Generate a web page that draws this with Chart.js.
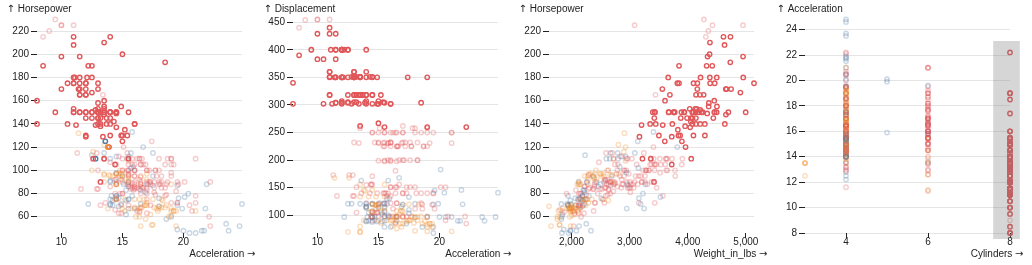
<!DOCTYPE html>
<html>
<head>
<meta charset="utf-8">
<script src="https://cdn.jsdelivr.net/npm/chart.js@4"></script>
<style>
html,body{margin:0;padding:0;background:#fff;}
#wrap{position:relative;width:1032px;height:265px;overflow:hidden;}
.panel{position:absolute;top:0;width:256px;height:265px;}
canvas{display:block;}
</style>
</head>
<body>
<div id="wrap">
  <div class="panel" style="left:0px"><canvas id="c0" width="256" height="265"></canvas></div>
  <div class="panel" style="left:256px"><canvas id="c1" width="256" height="265"></canvas></div>
  <div class="panel" style="left:512px"><canvas id="c2" width="256" height="265"></canvas></div>
  <div class="panel" style="left:768px"><canvas id="c3" width="256" height="265"></canvas></div>
</div>
<script>
// ---------------- DATA (cars) ----------------
const cylinders = [
  8,8,8,8,8,8,8,8,8,8,8,8,8,8,4,6,6,6,4,4,4,4,4,4,6,8,8,8,8,
  4,4,4,4,6,6,6,6,6,8,8,8,8,8,8,8,6,4,6,6,4,4,4,4,4,4,4,4,
  4,4,4,4,4,8,8,8,8,8,8,8,8,8,3,8,8,8,8,4,4,4,4,4,4,4,4,4,
  8,8,8,8,8,8,8,8,8,8,8,8,6,6,6,6,6,4,8,8,8,8,6,4,4,4,3,4,6,4,8,8,4,4,4,4,8,4,6,8,
  6,6,6,6,4,4,4,4,6,6,6,8,8,8,8,8,4,4,4,4,4,4,4,4,4,4,4,
  6,6,6,6,8,8,8,8,6,6,6,6,6,8,8,4,4,6,4,4,4,4,6,4,6,4,4,4,4,4,
  4,4,4,4,4,8,8,8,8,6,6,6,6,4,4,4,4,6,6,6,6,4,4,4,4,4,8,4,6,6,8,8,8,8,
  4,4,4,4,4,8,8,8,8,6,6,6,6,8,8,8,8,4,4,4,4,4,4,4,4,6,4,3,
  4,4,4,4,4,8,8,8,6,6,6,4,6,6,6,6,6,6,8,6,8,8,4,4,4,4,4,4,4,4,5,6,4,6,4,4,
  6,6,4,6,6,8,8,8,8,8,8,8,8,4,4,4,4,5,8,4,8,4,4,4,4,4,6,6,4,
  4,4,4,4,4,4,4,6,4,4,4,4,4,4,4,4,4,4,5,4,4,4,4,4,6,3,4,4,4,
  4,4,4,6,4,4,4,4,4,4,4,4,4,4,4,4,4,4,4,4,4,4,6,6,6,6,8,6,6,
  4,4,4,4,4,4,4,4,4,4,4,4,4,4,4,4,4,4,4,6,6,4,6,4,4,4,4,4,4,4,4,
  4,8,8,8,8,8,4,4
];
const displacement = [
  307,350,318,304,302,429,454,440,455,390,383,340,400,455,113,198,199,200,97,97,110,107,104,121,199,360,307,318,304,
  97,140,113,98,232,225,250,250,232,350,400,351,318,383,400,400,258,140,250,250,122,116,79,88,71,72,97,91,
  113,97.5,97,140,122,350,400,318,351,304,429,350,350,400,70,304,307,302,318,121,121,120,96,122,97,120,98,97,
  350,304,350,302,318,429,400,351,318,440,455,360,225,250,232,250,198,97,400,400,360,350,232,97,140,108,70,122,155,98,350,400,68,116,114,121,318,121,156,350,
  198,200,232,250,79,122,71,140,250,258,225,302,350,318,302,304,98,79,97,76,83,90,90,116,120,108,79,
  225,250,250,250,400,350,318,351,231,250,258,225,231,262,302,97,140,232,140,134,90,119,171,90,232,115,120,121,121,91,
  107,116,140,98,101,305,318,304,351,225,250,200,232,85,98,90,91,225,250,250,258,97,85,97,140,130,318,120,156,168,350,350,302,318,
  98,111,79,122,85,305,260,318,302,250,231,225,250,400,350,400,351,97,151,97,140,98,98,97,97,146,121,80,
  90,98,78,85,91,260,318,302,231,200,200,140,225,232,231,200,225,258,305,231,302,318,98,134,119,105,134,156,151,119,131,163,121,163,89,98,
  231,200,140,232,225,305,302,351,318,350,351,267,360,89,86,98,121,183,350,141,260,105,105,85,91,151,173,173,151,
  98,89,98,86,151,140,151,225,97,134,120,119,108,86,156,85,90,90,121,146,91,85,97,89,168,70,122,140,107,
  135,151,156,173,135,79,86,81,97,85,89,91,105,98,98,105,100,107,108,119,120,141,145,168,146,231,350,200,225,
  112,112,112,112,135,151,140,151,105,91,91,105,98,120,107,108,91,91,91,181,262,156,232,144,135,151,140,97,135,120,119,
  133,350,351,383,360,302,97,121
];
const horsepower = [
  130,165,150,150,140,198,220,215,225,190,170,160,150,225,95,95,97,85,88,46,87,90,95,113,90,215,200,210,193,
  88,90,95,null,100,105,100,88,100,165,175,153,150,180,170,175,110,72,100,88,86,90,70,76,65,69,60,70,
  95,80,54,90,86,165,175,150,153,150,208,155,160,190,97,150,130,140,150,112,76,87,69,86,92,97,80,88,
  175,150,145,137,150,198,150,158,150,215,225,175,105,100,100,88,95,46,150,167,170,180,100,88,72,94,90,85,107,90,145,230,49,75,91,112,150,110,122,180,
  95,null,100,100,67,80,65,75,100,110,105,140,150,150,140,150,83,67,78,52,61,75,75,75,97,93,67,
  95,105,72,72,170,145,150,148,110,105,110,95,110,110,129,75,83,100,78,96,71,97,97,70,90,95,88,98,115,53,
  86,81,92,79,83,140,150,120,152,100,105,81,90,52,60,70,53,100,78,110,95,71,70,75,72,102,150,88,108,120,180,145,130,150,
  68,80,58,96,70,145,110,145,130,110,105,100,98,180,170,190,149,78,88,75,89,63,83,67,78,97,110,110,
  48,66,52,70,60,110,140,139,105,95,85,88,100,90,105,85,110,120,145,165,139,140,68,95,97,75,95,105,85,97,103,125,115,133,71,68,
  115,85,88,90,110,130,129,138,135,155,142,125,150,71,65,80,80,77,125,71,90,70,70,65,69,90,115,115,90,
  76,60,70,65,90,88,90,90,78,90,75,92,75,65,105,65,48,48,67,67,67,null,67,62,132,100,88,null,72,
  84,84,92,110,84,58,64,60,67,65,62,68,63,65,65,74,null,75,75,100,74,80,76,116,120,110,105,88,85,
  88,88,88,85,84,90,92,null,74,68,68,63,70,88,75,70,67,67,67,110,85,92,112,96,84,90,86,52,84,79,82,
  115,165,153,175,175,140,48,110
];
const weightInLbs = [
  3504,3693,3436,3433,3449,4341,4354,4312,4425,3850,3563,3609,3761,3086,2372,2833,2774,2587,2130,1835,2672,2430,2375,2234,2648,4615,4376,4382,4732,
  2130,2264,2228,2046,2634,3439,3329,3302,3288,4209,4464,4154,4096,4955,4746,5140,2962,2408,3282,3139,2220,2123,2074,2065,1773,1613,1834,1955,
  2278,2126,2254,2408,2226,4274,4385,4135,4129,3672,4633,4502,4456,4422,2330,3892,4098,4294,4077,2933,2511,2979,2189,2395,2288,2506,2164,2100,
  4100,3672,3988,4042,3777,4952,4464,4363,4237,4735,4951,3821,3121,3278,2945,3021,2904,1950,4997,4906,4654,4499,2789,2279,2401,2379,2124,2310,2472,2265,4082,4278,1867,2158,2582,2868,3399,2660,2807,3664,
  3102,2875,2901,3336,1950,2451,1836,2542,3781,3632,3613,4141,4699,4457,4638,4257,2219,1963,2300,1649,2003,2125,2108,2246,2489,2391,2000,
  3264,3459,3432,3158,4668,4440,4498,4657,3907,3897,3730,3785,3039,3221,3169,2171,2639,2914,2592,2702,2223,2545,2984,1937,3211,2694,2957,2945,2671,1795,
  2464,2220,2572,2255,2202,4215,4190,3962,4215,3233,3353,3012,3085,2035,2164,1937,1795,3651,3574,3645,3193,1825,1990,2155,2565,3150,3940,3270,2930,3820,4380,4055,3870,3755,
  2045,2155,1825,2300,1945,3880,4060,4140,4295,3520,3425,3630,3525,4220,4165,4325,4335,1940,2740,2265,2755,2051,2075,1985,2190,2815,2600,2720,
  1985,1800,1985,2070,1800,3365,3735,3570,3535,3155,2965,2720,3430,3210,3380,3070,3620,3410,3425,3445,3205,4080,2155,2560,2300,2230,2515,2745,2855,2405,2830,3140,2795,3410,1990,2135,
  3245,2990,2890,3265,3360,3840,3725,3955,3830,4360,4054,3605,3940,1925,1975,1915,2670,3530,3900,3190,3420,2200,2150,2020,2130,2670,2595,2700,2556,
  2144,1968,2120,2019,2678,2870,3003,3381,2188,2711,2542,2434,2265,2110,2800,2110,2085,2335,2950,3250,1850,1835,2145,1845,2910,2420,2500,2905,2290,
  2490,2635,2620,2725,2385,1755,1875,1760,2065,1975,2050,1985,2215,2045,2380,2190,2320,2210,2350,2615,2635,3230,3160,2900,2930,3415,3725,3060,3465,
  2605,2640,2395,2575,2525,2735,2865,3035,1980,2025,1970,2125,2125,2160,2205,2245,1965,1965,1995,2945,3015,2585,2835,2665,2370,2950,2790,2130,2295,2625,2720,
  3090,4142,4034,4166,3850,3353,1978,2800
];
const acceleration = [
  12,11.5,11,12,10.5,10,9,8.5,10,8.5,10,8,9.5,10,15,15.5,15.5,16,14.5,20.5,17.5,14.5,17.5,12.5,15,14,15,13.5,18.5,
  14.5,15.5,14,19,13,15.5,15.5,15.5,15.5,12,11.5,13.5,13,11.5,12,12,13.5,19,15,14.5,14,14,19.5,14.5,19,18,19,20.5,
  15.5,17,23.5,19.5,16.5,12,12,13.5,13,11.5,11,13.5,13.5,12.5,13.5,12.5,14,16,14,14.5,18,19.5,18,16,17,14.5,15,16.5,
  13,11.5,13,14.5,12.5,11.5,12,13,14.5,11,11,11,16.5,18,16,16.5,16,21,14,12.5,13,12.5,15,19,19.5,16.5,13.5,18.5,14,15.5,13,9.5,19.5,15.5,14,15.5,11,14,13.5,11,
  16.5,17,16,17,19,16.5,21,17,17,18,16.5,14,14.5,13.5,16,15.5,16.5,15.5,14.5,16.5,19,14.5,15.5,14,15,15.5,16,
  16,16,21,19.5,11.5,14,14.5,13.5,21,18.5,19,19,15,13.5,12,16,17,16,18.5,13.5,16.5,17,14.5,14,17,15,17,14.5,13.5,17.5,
  15.5,16.9,14.9,17.7,15.3,13,13,13.9,12.8,15.4,14.5,17.6,17.6,22.2,22.1,14.2,17.4,17.7,21,16.2,17.8,12.2,17,16.4,13.6,15.7,13.2,21.9,15.5,16.7,12.1,12,15,14,
  18.5,14.8,18.6,15.5,16.8,12.5,19,13.7,14.9,16.4,16.9,17.7,19,11.1,11.4,12.2,14.5,14.5,16,18.2,15.8,17,15.9,16.4,14.1,14.5,12.8,13.5,
  21.5,14.4,19.4,18.6,16.4,15.5,13.2,12.8,19.2,18.2,15.8,15.4,17.2,17.2,15.8,16.7,18.7,15.1,13.2,13.4,11.2,13.7,16.5,14.2,14.7,14.5,14.8,16.7,17.6,14.9,15.9,13.6,15.7,15.8,14.9,16.6,
  15.4,18.2,17.3,18.2,16.6,15.4,13.4,13.2,15.2,14.9,14.3,15,13,14,15.2,14.4,15,20.1,17.4,24.8,22.2,13.2,14.9,19.2,14.7,16,11.3,12.9,13.2,
  14.7,18.8,15.5,16.4,16.5,18.1,20.1,18.7,15.8,15.5,17.5,15,15.2,17.9,14.4,19.2,21.7,23.7,19.9,21.8,13.8,17.3,18,15.3,11.4,12.5,15.1,14.3,17,
  15.7,16.4,14.4,12.6,12.9,16.9,16.4,16.1,17.8,19.4,17.3,16,14.9,16.2,20.7,14.2,15.8,14.4,16.8,14.8,18.3,20.4,19.6,12.6,13.8,15.8,19,17.1,16.6,
  19.6,18.6,18,16.2,16,18,16.4,20.5,15.3,18.2,17.6,14.7,17.3,14.5,14.5,16.9,15,15.7,16.2,16.4,17,14.5,14.7,13.9,13,17.3,15.6,24.6,11.6,18.6,19.4,
  17.5,11.5,11,10.5,11,8,20,15.4
];
// U = USA, E = Europe, J = Japan
const originCodes = [
  "UUUUU UUUUU UUUUJ UUUJE EEEEU UUUU",
  "JUJUU UUUUU UUUUU UUUUU UEEEJ JEU",
  "JUEUU UUUUU UUUUJ UUUUE EEEUJ JUJ",
  "UUUUU UUUUU UUUUU UUEUU UUUJU JJUUE UUEEE EUEJU",
  "UUUUJ UJUUU UUUUU UEEEJ JUEEJ JE",
  "UUUUU UUUUU UUUUU JUUUJ EJUEU EEEEJ",
  "EEUUE UUUUU UUUUU EJUUU UEJJU EUEJE UUUU",
  "JUEUJ UUUUU UUUUU UUEUJ UUUJE JEJ",
  "EUJJJ UUUUU UUUUU UUUUU UUUJJ UJUUJ EEEEE J",
  "UUUUU UUUUU UUUEJ UUEUE UUUJE UUUU",
  "EJUJU UUUEJ JJJJU JEEEE JEJEJ JEUJ",
  "UUUUU JUJJJ JJUUU EEJJJ JEEJJ UUUU",
  "UUUUU UUUEJ JUUJJ JJJJU UUUJU UUEUU U",
  "EUUUU UEE"
];
const origin = originCodes.join('').replace(/ /g, '').split('');

// Tick labels
const horsepowerTicks   = [60, 80, 100, 120, 140, 160, 180, 200, 220];
const displacementTicks = [100, 150, 200, 250, 300, 350, 400, 450];
const accelerationXTicks = [10, 15, 20];
const accelerationYTicks = [8, 10, 12, 14, 16, 18, 20, 22, 24];
const weightTicks       = [2000, 3000, 4000, 5000];
const cylinderTicks     = [4, 6, 8];

// Brush selection (drawn in the Cylinders panel)
const brushCylinders    = [7.59, 8.24];
const brushAcceleration = [7.53, 23.1];
const brushUnselectedRows = [6, 7, 8, 13, 95, 116];
// rows whose highlight differs in the Acceleration/Horsepower panel
const accHpToggledRows = [222, 242, 275, 298, 300, 308, 323, 341, 362, 364];

// ---------------- CHECK ----------------
const N = cylinders.length;
[displacement, horsepower, weightInLbs, acceleration, origin].forEach((a, k) => {
  if (a.length !== N) throw new Error('array length mismatch ' + k + ': ' + a.length + ' vs ' + N);
});

const selected = cylinders.map((c, i) =>
  c >= brushCylinders[0] && c <= brushCylinders[1] &&
  acceleration[i] >= brushAcceleration[0] && acceleration[i] <= brushAcceleration[1] &&
  !brushUnselectedRows.includes(i));
const selectedAccHp = selected.map((s, i) => accHpToggledRows.includes(i) ? !s : s);

// ---------------- STYLE ----------------
const FONT_FAMILY = '"Liberation Sans", Arial, Helvetica, sans-serif';
const ARROW_FONT = '10px "DejaVu Sans", sans-serif';
const TEXT = '#222';
const RGB = {U: '225,87,89', E: '78,121,167', J: '242,142,43'};
const FADE = 0.3;

const comma = v => v.toLocaleString('en-US');

const panels = [
  {x: acceleration, y: horsepower, sel: selectedAccHp, xTicks: accelerationXTicks, yTicks: horsepowerTicks,
   xLabel: 'Acceleration', yLabel: 'Horsepower', yTitleX: 6.5},
  {x: acceleration, y: displacement, sel: selected, xTicks: accelerationXTicks, yTicks: displacementTicks,
   xLabel: 'Acceleration', yLabel: 'Displacement', yTitleX: 7.5},
  {x: weightInLbs, y: horsepower, sel: selected, xTicks: weightTicks, yTicks: horsepowerTicks,
   xLabel: 'Weight_in_lbs', yLabel: 'Horsepower', yTitleX: 6.5, fmt: comma},
  {x: cylinders, y: acceleration, sel: selected, xTicks: cylinderTicks, yTicks: accelerationYTicks,
   xLabel: 'Cylinders', yLabel: 'Acceleration', yTitleX: 8.5, brush: true}
];

panels.forEach((p, idx) => {
  const selPts = [], fadPts = [];
  let xmin = Infinity, xmax = -Infinity, ymin = Infinity, ymax = -Infinity;
  for (let i = 0; i < N; i++) {
    const xv = p.x[i], yv = p.y[i];
    if (xv == null || yv == null) continue;
    xmin = Math.min(xmin, xv); xmax = Math.max(xmax, xv);
    ymin = Math.min(ymin, yv); ymax = Math.max(ymax, yv);
    const pt = {x: xv, y: yv, o: origin[i]};
    (p.sel[i] ? selPts : fadPts).push(pt);
  }
  const fmt = p.fmt || (v => String(v));
  const annot = {
    id: 'annot' + idx,
    afterDatasetsDraw(chart) {
      if (!p.brush) return;
      const {ctx, scales: {x, y}} = chart;
      const x0 = x.getPixelForValue(brushCylinders[0]), x1 = x.getPixelForValue(brushCylinders[1]);
      const y0 = y.getPixelForValue(brushAcceleration[1]), y1 = y.getPixelForValue(brushAcceleration[0]);
      ctx.save();
      ctx.fillStyle = 'rgba(119,119,119,0.3)';
      ctx.fillRect(x0, y0, x1 - x0, y1 - y0);
      ctx.restore();
    },
    afterDraw(chart) {
      const ctx = chart.ctx;
      ctx.save();
      ctx.fillStyle = TEXT;
      ctx.textBaseline = 'alphabetic';
      // y title: "↑ Label"
      ctx.textAlign = 'left';
      ctx.font = ARROW_FONT;
      const up = '↑';
      ctx.fillText(up, p.yTitleX, 11.7);
      const upW = ctx.measureText(up).width;
      ctx.font = '10px ' + FONT_FAMILY;
      ctx.fillText(' ' + p.yLabel, p.yTitleX + upW, 11.7);
      // x title: "Label →"
      ctx.textAlign = 'right';
      ctx.font = ARROW_FONT;
      const right = '→';
      ctx.fillText(right, 255.5, 256.5);
      const rW = ctx.measureText(right).width;
      ctx.font = '10px ' + FONT_FAMILY;
      ctx.fillText(p.xLabel + ' ', 255.5 - rW, 256.5);
      ctx.restore();
    }
  };
  new Chart(document.getElementById('c' + idx), {
    type: 'scatter',
    data: {
      datasets: [
        {data: selPts, pointRadius: 2.2, pointBorderWidth: 1.4, pointBackgroundColor: 'rgba(0,0,0,0)',
         pointBorderColor: selPts.map(q => 'rgb(' + RGB[q.o] + ')'), clip: false},
        {data: fadPts, pointRadius: 2.2, pointBorderWidth: 1.4, pointBackgroundColor: 'rgba(0,0,0,0)',
         pointBorderColor: fadPts.map(q => 'rgba(' + RGB[q.o] + ',' + FADE + ')'), clip: false}
      ]
    },
    options: {
      responsive: false, animation: false, devicePixelRatio: 1, events: [],
      layout: {padding: {left: 0, right: 14, top: 19.4, bottom: 0}},
      plugins: {legend: {display: false}, tooltip: {enabled: false}},
      scales: {
        x: {
          type: 'linear', position: 'bottom', min: xmin, max: xmax,
          afterBuildTicks: ax => { ax.ticks = p.xTicks.map(v => ({value: v})); },
          afterFit: ax => { ax.height = 32; },
          ticks: {font: {family: FONT_FAMILY, size: 10}, color: TEXT, padding: -2, maxRotation: 0, autoSkip: false,
                  callback: v => fmt(v)},
          grid: {drawOnChartArea: false, drawTicks: true, tickLength: 5, tickColor: TEXT, tickWidth: 1},
          border: {display: false}
        },
        y: {
          type: 'linear', position: 'left', min: ymin, max: ymax,
          afterBuildTicks: ax => { ax.ticks = p.yTicks.map(v => ({value: v})); },
          afterFit: ax => { ax.width = 37; },
          ticks: {font: {family: FONT_FAMILY, size: 10}, color: TEXT, padding: 2, autoSkip: false,
                  callback: v => String(v)},
          grid: {color: 'rgba(0,0,0,0.1)', lineWidth: 1, drawTicks: true, tickLength: 6, tickColor: TEXT, tickWidth: 1},
          border: {display: false}
        }
      }
    },
    plugins: [annot]
  });
});
</script>
</body>
</html>
